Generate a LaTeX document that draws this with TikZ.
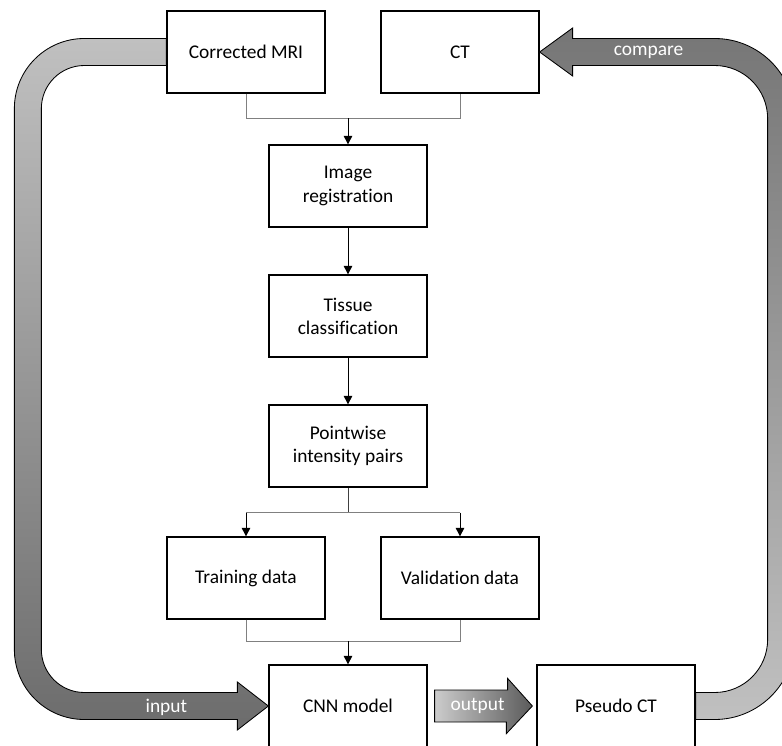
\documentclass[tikz,border=0pt]{standalone}
\usepackage{fontspec}
\setmainfont{Carlito}[Ligatures=NoCommon]
\usepackage{xcolor}
\usepackage{tikz}
\usetikzlibrary{calc, positioning, arrows.meta}
\definecolor{bandlight}{RGB}{192,192,192}
\definecolor{banddark}{RGB}{108,108,108}
\definecolor{comparedark}{RGB}{118,118,118}
\definecolor{outlight}{RGB}{204,204,204}
\definecolor{outdark}{RGB}{90,90,90}
\definecolor{linkgray}{RGB}{128,128,128}

\begin{document}
\begin{tikzpicture}
  [node distance=3.25cm,
   box/.style={draw, rectangle, line width=0.9pt, text centered, align=center,
               minimum width=3.95cm, minimum height=2.05cm,
               font=\fontsize{13.8}{16.5}\selectfont},
   link/.style={draw=linkgray, line width=0.6pt},
   arr/.style={-{Triangle[length=6pt,width=6pt]}, line width=0.6pt},
   bigarrow/.style={draw=black, line width=0.6pt},
   bandlabel/.style={text=white, font=\fontsize{13.8}{16.5}\selectfont}]
  \useasboundingbox (0,0) rectangle (19.55,-18.625);

  % nodes %
  \node[box] (reg) at (8.7,-4.65) {Image\\registration};
  \node[box, above of = reg, xshift=-2.55cm, yshift=0.1cm] (mri) {Corrected MRI};
  \node[box, above of = reg, xshift=2.8cm, yshift=0.1cm] (ct) {CT};
  \node[box, below of = reg] (tissue) {Tissue\\classification};
  \node[box, below of = tissue] (pairs) {Pointwise\\intensity pairs};
  \node[box, below of = pairs, xshift=-2.55cm, yshift=-0.05cm] (train) {Training data};
  \node[box, below of = pairs, xshift=2.8cm, yshift=-0.05cm] (valid) {Validation data};
  \node[box, node distance=6.5cm, below of = pairs] (cnn) {CNN model};
  \node[box, node distance=6.7cm, right of = cnn] (pseudo) {Pseudo CT};

  % edges %
  \coordinate (join) at ($(reg.north)+(0,0.65)$);
  \draw[link] (mri.south) |- (join) -| (ct.south);
  \draw[arr] (join) -- (reg.north);
  \draw[arr] (reg) -- (tissue);
  \draw[arr] (tissue) -- (pairs);
  \coordinate (split) at ($(pairs.south)+(0,-0.625)$);
  \draw[line width=0.6pt, black!75] (pairs.south) -- (split);
  \draw[link] (train.north |- split) -- (valid.north |- split);
  \draw[arr] (train.north |- split) -- (train.north);
  \draw[arr] (valid.north |- split) -- (valid.north);
  \coordinate (merge) at ($(cnn.north)+(0,0.575)$);
  \draw[link] (train.south) |- (merge) -| (valid.south);
  \draw[arr] (merge) -- (cnn.north);

  % big arrows %
  \shadedraw[bigarrow, top color=bandlight, bottom color=banddark]
    ($(mri.west)+(0,0.3375)$) -- ++(-2.05,0)
    arc[start angle=90, end angle=180, radius=1.75] -- ++(0,-13.525)
    arc[start angle=180, end angle=270, radius=1.75] -- ++(3.825,0) -- ++(0,-0.2625)
    -- (cnn.west) -- ++(-0.775,0.6) -- ++(0,-0.2625) -- ++(-3.825,0)
    arc[start angle=270, end angle=180, radius=1.075] -- ++(0,13.525)
    arc[start angle=180, end angle=90, radius=1.075]
    -- ($(mri.west)+(0,-0.3375)$) -- cycle;
  \shadedraw[bigarrow, top color=comparedark, bottom color=bandlight]
    ($(pseudo.east)+(0,0.3375)$) -- ++(0.475,0)
    arc[start angle=270, end angle=360, radius=1.325] -- ++(0,13.025)
    arc[start angle=0, end angle=90, radius=1.325] -- ++(-3.55,0) -- ++(0,-0.2625)
    -- (ct.east) -- ++(0.825,0.6) -- ++(0,-0.2625) -- ++(3.55,0)
    arc[start angle=90, end angle=0, radius=2] -- ++(0,-13.025)
    arc[start angle=0, end angle=-90, radius=2]
    -- ($(pseudo.east)+(0,-0.3375)$) -- cycle;
  \shadedraw[bigarrow, left color=outlight, right color=outdark]
    ($(cnn.east)+(0.175,0.4)$) -- ++(1.825,0) -- ++(0,0.29)
    -- ($(pseudo.west)+(-0.1,0)$) -- ++(-0.65,-0.69) -- ++(0,0.29)
    -- ($(cnn.east)+(0.175,-0.4)$) -- cycle;

  % labels %
  \node[bandlabel] (inputlbl) at ($(cnn.west)+(-2.55,-0.03)$) {input};
  \node[bandlabel] (outputlbl) at ($(cnn.east)+(1.25,0)$) {output};
  \node[bandlabel] (comparelbl) at ($(ct.east)+(2.725,0)$) {compare};
\end{tikzpicture}
\end{document}
